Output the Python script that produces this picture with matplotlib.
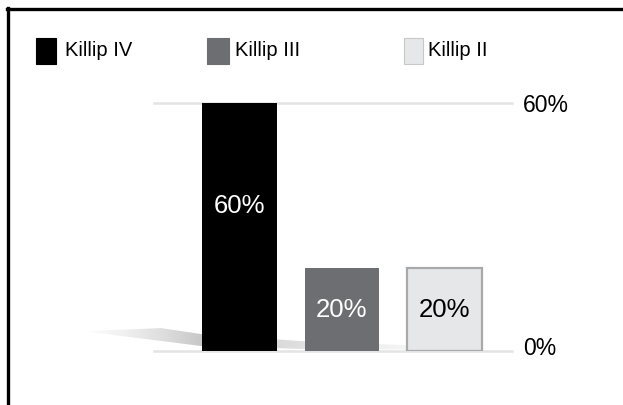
import matplotlib
matplotlib.use("Agg")
import matplotlib.pyplot as plt
from matplotlib.patches import Rectangle, Polygon
from matplotlib.lines import Line2D
from matplotlib.transforms import ScaledTranslation
import numpy as np

plt.rcParams['font.family'] = ['Liberation Sans', 'DejaVu Sans']

categories = ['Killip IV', 'Killip III', 'Killip II']
values = [60, 20, 20]
bar_labels = ['60%', '20%', '20%']
yticks = [0, 60]
ytick_labels = ['0%', '60%']
colors = ['#000000', '#6d6e71', '#e6e7e8']
edges = ['#000000', '#6d6e71', '#a7a9ac']
text_colors = ['white', 'white', 'black']

W, H = 623, 405
fig = plt.figure(figsize=(W / 100, H / 100), dpi=100)


def fx(x):
    return x / W


def fy(y):
    return 1 - y / H


# frame lines (top and left only)
fig.add_artist(Line2D([fx(7), fx(623)], [fy(9), fy(9)], color='black', lw=2.4,
                      transform=fig.transFigure))
fig.add_artist(Line2D([fx(8), fx(8)], [fy(8), fy(405)], color='black', lw=2.4,
                      transform=fig.transFigure))

# soft shadow behind bars
gx = np.concatenate([np.linspace(0.02, 0.33, 75), np.linspace(0.33, 0.0, 181)])
img_ax = fig.add_axes([fx(85), fy(352), fx(400), fy(326) - fy(352)])
img_ax.set_axis_off()
img_ax.set_xlim(0, 1)
img_ax.set_ylim(0, 1)
im = img_ax.imshow(gx.reshape(1, -1), cmap='Greys', vmin=0, vmax=1,
                   aspect='auto', extent=[0, 1, 0, 1])
shadow = Polygon([[0.0125, 0.81], [0.19, 0.92], [0.29, 0.69], [0.54, 0.42],
                  [0.99, 0.15], [0.99, 0.08], [0.54, 0.12], [0.29, 0.23],
                  [0.0125, 0.77]], closed=True, transform=img_ax.transData,
                 facecolor='none', edgecolor='none')
img_ax.add_patch(shadow)
im.set_clip_path(shadow)

ax = fig.add_axes([fx(154), fy(351), fx(512) - fx(154), fy(103) - fy(351)])
ax.set_facecolor('none')
x = np.arange(len(categories))
for v in yticks:
    ax.axhline(v, color='#e4e4e4', lw=1.8, zorder=0, clip_on=False)
bars = ax.bar(x, values, width=0.73, color=colors, edgecolor=edges,
              linewidth=[0, 0, 1.6], zorder=2)
for xi, v, lab, tc in zip(x, values, bar_labels, text_colors):
    ypos = v / 2 + (5 if v > 30 else 0)
    ax.text(xi, ypos, lab, ha='center', va='center', color=tc, fontsize=18.5, zorder=3)

ax.set_xlim(-0.834, 2.66)
ax.set_ylim(0, 60)
ax.yaxis.tick_right()
ax.set_yticks(yticks)
ax.set_yticklabels(ytick_labels, fontsize=16.5)
ax.tick_params(axis='y', length=0, pad=8)
ax.set_xticks([])
for s in ax.spines.values():
    s.set_visible(False)
lab0 = ax.get_yticklabels()[0]
lab0.set_transform(lab0.get_transform() + ScaledTranslation(0, 5 / 100, fig.dpi_scale_trans))

# legend
leg_boxes = [(36, 56), (207, 229), (404, 423)]
leg_text_x = [65, 235, 428]
for (x0, x1), tx, c, ec, lab in zip(leg_boxes, leg_text_x, colors, edges, categories):
    fig.add_artist(Rectangle((fx(x0), fy(64)), fx(x1 - x0), fy(38) - fy(64),
                             facecolor=c, edgecolor='#c8c8c8' if c == '#e6e7e8' else c,
                             lw=0.8, transform=fig.transFigure))
    fig.text(fx(tx), fy(51), lab, ha='left', va='center', fontsize=14.5)

fig.savefig('out.png', dpi=100)
